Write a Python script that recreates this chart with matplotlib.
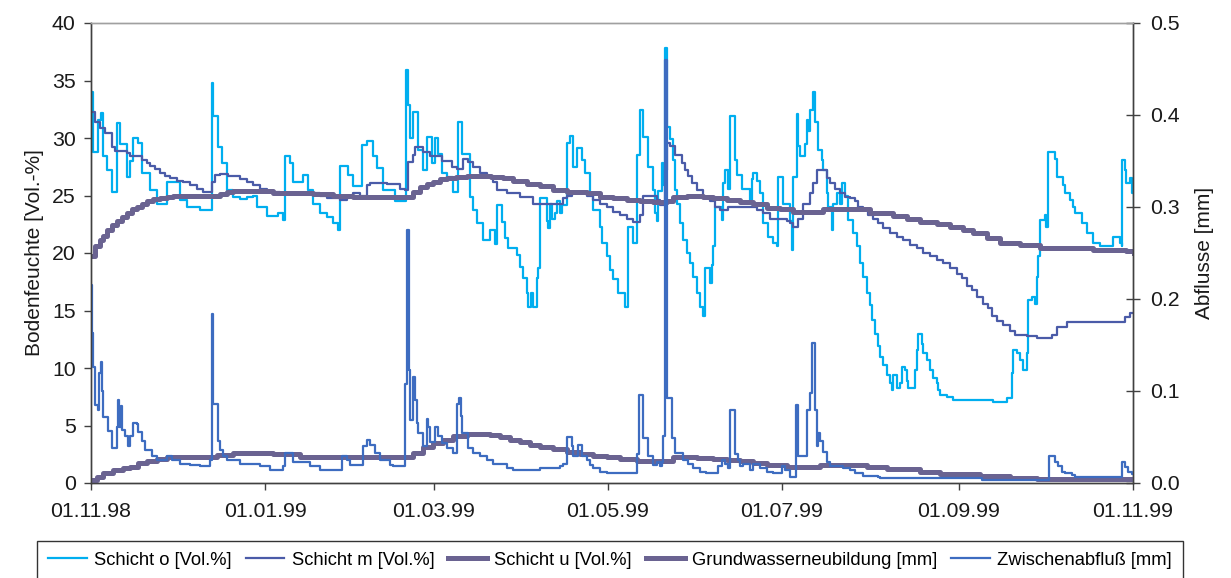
import numpy as np
import matplotlib
matplotlib.use("Agg")
import matplotlib.pyplot as plt
import matplotlib.dates as mdates
from matplotlib.ticker import MultipleLocator, FormatStrFormatter
import datetime as dt

plt.rcParams['font.family'] = ['Liberation Sans', 'DejaVu Sans']

start_date = dt.date(1998, 11, 1)
tick_dates = ["01.11.98", "01.01.99", "01.03.99", "01.05.99", "01.07.99", "01.09.99", "01.11.99"]

# Schicht o [Vol.%]  (days since 01.11.98, value)
o_days = [0.0, 0.6, 0.8, 2.6, 3.4, 4.1, 5.5, 7.2, 9.2, 10.2, 12.5, 13.7, 14.6, 16.6, 17.7, 20.7, 23.0,
          26.5, 28.8, 31.2, 33.5, 38.2, 42.3, 42.8, 44.6, 45.8, 47.5, 49.9, 52.2, 54.5, 56.8, 58.0, 61.5,
          65.6, 67.4, 68.0, 69.7, 70.9, 74.4, 76.1, 77.9, 80.2, 82.6, 84.9, 86.6, 87.2, 90.1, 91.9, 94.8,
          96.6, 98.9, 100.1, 102.4, 106.5, 110.3, 111.1, 111.7, 112.9, 114.6, 116.4, 117.6, 119.3, 120.5,
          121.6, 122.8, 124.6, 126.9, 128.7, 129.8, 132.7, 133.9, 135.1, 137.4, 139.8, 141.5, 142.1,
          143.8, 145.0, 146.2, 149.1, 150.3, 151.4, 152.6, 153.0, 154.3, 155.0, 156.1, 156.7, 157.3,
          159.6, 160.2, 160.8, 161.4, 162.5, 163.1, 164.3, 164.9, 166.6, 167.8, 168.9, 170.1, 171.9,
          173.0, 174.8, 175.9, 178.3, 178.9, 180.6, 181.8, 182.9, 184.7, 187.0, 188.2, 189.9, 191.1,
          192.3, 193.5, 195.2, 197.0, 197.5, 198.1, 198.7, 199.9, 200.5, 201.1, 201.7, 202.8, 204.0,
          204.6, 205.1, 206.3, 207.5, 208.7, 209.8, 211.0, 212.2, 213.3, 214.5, 215.1, 216.8, 217.4,
          218.0, 218.6, 220.9, 221.5, 222.1, 223.2, 223.8, 225.6, 226.2, 227.9, 230.8, 231.4, 232.0,
          233.2, 234.3, 235.5, 237.2, 239.0, 240.2, 240.7, 242.5, 244.8, 245.4, 245.8, 247.2, 247.7,
          248.3, 250.1, 250.7, 251.2, 251.8, 253.0, 253.6, 254.8, 255.9, 256.5, 257.7, 258.3, 259.4,
          260.0, 261.2, 262.3, 262.9, 264.1, 265.3, 267.0, 268.2, 269.4, 270.5, 271.7, 272.9, 273.4,
          274.6, 275.8, 276.4, 277.5, 278.7, 279.9, 280.5, 281.0, 282.2, 283.4, 284.0, 285.1, 285.7,
          286.3, 288.6, 289.2, 289.8, 291.0, 291.5, 292.7, 293.9, 295.0, 296.2, 296.8, 297.4, 299.7,
          302.1, 316.0, 320.7, 322.5, 323.0, 324.2, 325.4, 326.5, 327.7, 328.3, 329.5, 330.6, 331.2,
          331.8, 332.4, 334.1, 334.7, 335.3, 337.7, 338.3, 340.6, 341.2, 342.9, 344.1, 344.7, 347.0,
          348.8, 351.1, 353.4, 357.5, 358.1, 360.4, 361.0, 361.3, 362.1, 362.7, 363.9, 364.5, 365.3]
o_vals = [34.0, 31.6, 28.8, 31.6, 32.2, 28.4, 27.2, 25.3, 31.3, 29.5, 26.6, 28.0, 30.0, 29.6, 27.0, 25.5, 24.3,
          26.2, 26.2, 24.6, 24.0, 23.7, 34.8, 31.9, 29.2, 27.8, 25.5, 24.9, 24.7, 24.9, 25.0, 24.0, 23.2,
          23.5, 22.9, 28.4, 27.8, 26.2, 26.8, 25.5, 24.3, 23.5, 23.1, 22.6, 22.0, 27.6, 26.8, 25.8, 29.4,
          29.7, 28.4, 27.4, 25.5, 24.5, 35.9, 32.9, 30.0, 32.3, 29.0, 27.2, 30.1, 27.8, 30.0,
          28.6, 27.0, 26.6, 25.3, 31.4, 28.6, 24.9, 23.7, 22.6, 21.1, 22.0, 20.8, 24.2,
          22.7, 21.3, 20.4, 19.8, 18.8, 17.8, 16.5, 15.3, 16.5, 15.3, 17.8, 18.7, 24.8,
          22.8, 22.2, 24.3, 23.0, 23.5, 24.5, 23.5, 24.2, 29.6, 30.2, 27.5, 29.1, 28.1,
          27.0, 25.2, 23.7, 22.3, 20.9, 19.7, 18.5, 17.7, 16.5, 15.3, 22.3, 20.9, 28.5,
          32.4, 30.1, 27.5, 25.5, 23.5, 22.8, 25.4, 27.8, 25.9, 37.8, 31.0, 29.9, 28.1,
          25.5, 24.3, 22.6, 21.1, 20.0, 19.1, 17.9, 16.5, 15.3, 14.5, 18.7, 17.4, 19.0,
          20.6, 24.0, 22.9, 26.1, 27.2, 25.6, 31.9, 28.1, 26.8, 25.6, 24.3, 26.4, 27.0,
          26.3, 25.2, 22.6, 21.4, 20.9, 20.6, 26.6, 24.3, 22.8, 20.3, 26.6, 32.1, 29.3,
          28.4, 29.5, 31.6, 30.6, 32.4, 34.0, 31.4, 29.0, 28.1, 27.2, 25.2, 24.0, 22.0,
          24.3, 25.2, 24.3, 26.1, 25.0, 22.9, 21.7, 20.6, 19.1, 17.9, 16.5, 15.5, 14.2,
          13.0, 11.9, 11.0, 10.3, 9.4, 8.7, 8.1, 9.4, 8.3, 8.7, 10.1, 9.8, 8.9,
          8.3, 9.8, 11.6, 13.0, 12.1, 11.3, 10.7, 9.8, 9.1, 8.7, 8.1, 7.65, 7.5,
          7.2, 7.05, 7.4, 9.6, 11.6, 11.3, 10.7, 9.8, 11.3, 15.9, 16.2, 15.6, 17.9,
          19.7, 22.9, 23.3, 22.3, 28.8, 28.2, 26.6, 25.9, 25.2, 24.6, 24.0, 23.5, 22.6,
          21.7, 20.9, 20.6, 20.6, 21.4, 20.9, 20.6, 28.1, 27.2, 26.1, 26.5, 25.2, 24.3]

# Schicht m [Vol.%]
m_days = [0.0, 1.4, 3.2, 4.9, 7.2, 8.4, 12.5, 13.7, 17.7, 19.5, 20.7, 22.4, 24.2, 25.9, 27.7, 30.0, 32.3,
          34.7, 37.0, 39.3, 42.3, 43.4, 45.2, 48.1, 52.2, 54.5, 56.8, 59.2, 61.5, 66.2, 75.6, 77.9, 80.2,
          82.6, 87.2, 89.6, 91.9, 94.2, 96.6, 97.7, 103.6, 108.2, 110.0, 111.1, 112.9, 113.5, 116.4, 118.7,
          121.6, 122.8, 126.3, 128.1, 130.4, 132.2, 133.9, 136.3, 138.6, 140.9, 142.1, 145.6, 150.3, 154.9,
          163.1, 165.4, 166.6, 168.4, 171.9, 173.6, 175.9, 178.3, 180.6, 182.9, 185.3, 187.6, 189.9, 192.3,
          193.5, 198.1, 199.3, 201.1, 201.7, 202.8, 204.6, 206.9, 208.1, 209.2, 210.4, 212.2, 214.5, 216.8,
          218.6, 220.3, 223.2, 233.2, 235.5, 237.8, 243.7, 244.8, 246.0, 247.7, 249.5, 251.8, 253.0, 254.2,
          256.5, 257.7, 258.8, 260.6, 262.3, 264.1, 265.8, 267.6, 268.8, 270.5, 272.3, 274.0, 275.8, 277.5,
          279.9, 282.2, 284.5, 286.9, 289.2, 291.5, 293.9, 296.2, 298.5, 300.9, 303.2, 305.0, 306.7, 308.5,
          310.2, 312.6, 314.3, 315.5, 317.2, 319.5, 321.9, 323.6, 327.7, 331.2, 336.5, 338.3, 341.8, 362.1,
          363.9, 365.3]
m_vals = [32.3, 31.4, 30.9, 30.4, 29.2, 28.9, 28.7, 28.4, 28.1, 27.8, 27.6, 27.3, 27.0, 26.7, 26.5, 26.3, 26.2,
          25.9, 25.6, 25.3, 26.2, 26.8, 26.9, 26.7, 26.4, 26.2, 25.9, 25.6, 25.3, 25.2, 25.3, 25.2, 25.0,
          24.8, 24.6, 24.9, 25.2, 25.0, 25.9, 26.1, 26.0, 25.6, 25.5, 27.9, 28.5, 29.2, 28.8, 28.4,
          28.4, 28.0, 27.5, 27.3, 28.2, 27.9, 27.5, 27.0, 26.6, 26.2, 25.5, 25.2, 24.9, 24.3,
          24.3, 24.8, 25.0, 25.3, 25.3, 25.0, 24.6, 24.3, 24.0, 23.6, 23.3, 23.0, 22.7, 23.3,
          25.0, 24.6, 24.2, 27.2, 29.6, 29.3, 28.5, 27.8, 27.2, 26.7, 26.1, 25.5, 24.9, 24.5,
          24.0, 23.7, 24.0, 23.7, 23.5, 23.0, 22.8, 22.6, 22.3, 23.0, 24.3, 25.2, 26.1, 27.2,
          27.2, 26.5, 26.1, 25.6, 25.2, 24.9, 24.8, 24.5, 24.0, 23.8, 23.3, 23.0, 22.6, 22.2,
          21.7, 21.4, 21.1, 20.7, 20.4, 20.0, 19.7, 19.4, 19.1, 18.7, 18.2, 17.8, 17.1, 16.8,
          16.2, 15.6, 15.2, 14.5, 14.1, 13.7, 13.2, 12.9, 12.8, 12.6, 12.9, 13.6, 14.0, 14.4,
          14.8, 14.8]

# Schicht u [Vol.%]
u_days = [0.0, 1.4, 3.2, 4.3, 5.5, 7.2, 9.0, 10.8, 12.5, 14.3, 16.0, 17.7, 19.5, 21.8, 24.2, 26.5, 28.8,
          45.2, 47.5, 49.9, 61.5, 63.9, 77.9, 84.9, 91.9, 110.0, 112.9, 115.2, 117.6, 119.9, 122.2, 124.6,
          128.0, 131.6, 140.0, 144.4, 147.9, 152.6, 157.3, 161.9, 166.6, 173.6, 178.3, 182.9, 187.6, 192.3,
          197.0, 201.7, 204.0, 208.7, 214.5, 218.0, 222.7, 227.3, 232.0, 236.7, 241.3, 246.0, 256.5, 272.9,
          281.0, 285.7, 290.4, 296.2, 300.9, 305.5, 309.0, 313.7, 318.4, 325.4, 332.4, 351.1, 362.7, 365.3]
u_vals = [19.7, 20.6, 21.1, 21.5, 22.0, 22.4, 22.8, 23.1, 23.5, 23.8, 24.0, 24.3, 24.5, 24.7, 24.8, 24.9, 25.0,
          25.1, 25.3, 25.4, 25.4, 25.2, 25.1, 25.0, 24.9, 24.9, 25.3, 25.7, 26.0, 26.2, 26.4, 26.5,
          26.6, 26.7, 26.6, 26.5, 26.3, 26.0, 25.8, 25.5, 25.3, 25.2, 24.9, 24.8, 24.6, 24.5,
          24.4, 24.5, 24.9, 25.0, 24.9, 24.8, 24.6, 24.4, 24.3, 23.9, 23.8, 23.6, 23.8, 23.5,
          23.2, 23.0, 22.7, 22.5, 22.3, 22.0, 21.7, 21.3, 20.9, 20.7, 20.4, 20.3, 20.2, 20.0]

# Grundwasserneubildung [mm]
gw_days = [0.0, 2.0, 4.3, 7.8, 11.3, 13.7, 16.6, 19.5, 23.0, 26.5, 44.0, 49.9, 63.9, 73.2, 112.9, 116.4,
           119.9, 123.4, 126.9, 131.6, 139.8, 143.3, 146.8, 150.3, 153.8, 157.3, 161.9, 166.6, 171.3,
           175.9, 180.6, 185.3, 191.1, 204.0, 212.2, 218.0, 222.7, 227.3, 232.0, 236.7, 243.7, 255.3,
           271.7, 278.7, 290.4, 297.4, 311.4, 321.9, 331.2, 365.3]
gw_vals = [0.0033, 0.0069, 0.0105, 0.0141, 0.0163, 0.0178, 0.0214, 0.0239, 0.0258, 0.0286, 0.0306, 0.0330,
           0.0315, 0.0286, 0.0323, 0.0395, 0.0431, 0.0468, 0.0511, 0.0533, 0.0521, 0.0496, 0.0468, 0.0443,
           0.0416, 0.0391, 0.0366, 0.0340, 0.0315, 0.0294, 0.0279, 0.0258, 0.0243, 0.0286, 0.0275, 0.0261,
           0.0250, 0.0243, 0.0221, 0.0200, 0.0178, 0.0196, 0.0170, 0.0149, 0.0123, 0.0098, 0.0076, 0.0058,
           0.0048, 0.0048]

# Zwischenabfluss [mm]
zw_days = [0.0, 0.2, 0.6, 1.4, 2.6, 2.9, 3.4, 3.7, 4.3, 6.1, 7.2, 9.0, 9.6, 9.9, 10.4, 10.8, 11.9, 13.1,
           13.7, 14.8, 16.0, 16.6, 17.7, 18.9, 21.3, 23.0, 26.5, 28.3, 31.2, 34.7, 38.2, 41.7, 42.3, 42.8,
           44.6, 45.2, 46.3, 47.5, 52.2, 59.2, 62.7, 67.4, 68.0, 70.9, 76.7, 80.2, 87.8, 89.6, 90.7, 95.2,
           96.6, 97.7, 99.5, 101.2, 104.7, 105.9, 110.0, 110.6, 111.5, 111.7, 112.9, 113.5, 114.1, 114.6,
           116.4, 117.6, 118.1, 118.7, 120.5, 121.6, 122.8, 124.6, 126.9, 128.3, 129.0, 129.5, 129.8,
           132.2, 133.9, 136.3, 138.6, 140.9, 145.6, 147.9, 157.3, 164.3, 165.4, 166.6, 168.4, 168.9,
           170.7, 171.9, 173.6, 174.8, 175.9, 178.3, 180.6, 191.1, 192.1, 193.5, 195.2, 197.0, 198.1,
           199.3, 199.9, 200.5, 201.1, 201.7, 203.4, 204.6, 207.5, 209.2, 211.0, 213.3, 215.6, 219.7,
           220.9, 222.1, 223.2, 223.8, 225.6, 226.7, 227.3, 228.5, 230.8, 232.0, 234.3, 236.7, 239.0,
           241.9, 243.1, 244.8, 246.9, 247.7, 248.9, 250.7, 251.8, 252.4, 253.6, 254.2, 254.8, 255.3,
           256.5, 257.7, 258.8, 263.5, 265.8, 267.6, 270.5, 275.8, 276.4, 312.0, 335.7, 337.7, 338.8,
           340.0, 341.2, 343.5, 344.7, 361.3, 362.1, 363.3, 364.5, 365.3]
zw_vals = [0.215, 0.163, 0.126, 0.085, 0.079, 0.120, 0.131, 0.100, 0.072, 0.056, 0.038, 0.061, 0.090, 0.061,
           0.084, 0.058, 0.051, 0.040, 0.051, 0.065, 0.064, 0.055, 0.046, 0.036, 0.029, 0.025, 0.029, 0.025,
           0.021, 0.020, 0.018, 0.025, 0.184, 0.086, 0.046, 0.036, 0.029, 0.025, 0.021, 0.018, 0.014, 0.018,
           0.033, 0.023, 0.018, 0.014, 0.029, 0.025, 0.020, 0.040, 0.047, 0.041, 0.033, 0.025, 0.020, 0.018,
           0.108, 0.275, 0.123, 0.069, 0.115, 0.090, 0.065, 0.054, 0.040, 0.070, 0.061, 0.045, 0.061, 0.051,
           0.044, 0.038, 0.033, 0.086, 0.092, 0.073, 0.054, 0.038, 0.033, 0.029, 0.025, 0.021, 0.016, 0.014,
           0.016, 0.018, 0.021, 0.050, 0.040, 0.029, 0.041, 0.029, 0.025, 0.020, 0.016, 0.012, 0.0105,
           0.032, 0.096, 0.049, 0.029, 0.020, 0.023, 0.018, 0.023, 0.051, 0.460, 0.092, 0.049, 0.033,
           0.025, 0.021, 0.016, 0.012, 0.0105, 0.018, 0.025, 0.021, 0.016, 0.079, 0.032, 0.025, 0.018,
           0.021, 0.014, 0.021, 0.016, 0.012, 0.0105, 0.018, 0.014, 0.007, 0.085, 0.029, 0.029, 0.079,
           0.098, 0.152, 0.079, 0.040, 0.054, 0.046, 0.034, 0.023, 0.018, 0.016, 0.014, 0.0105, 0.0075,
           0.007, 0.005, 0.003, 0.029, 0.0225, 0.018, 0.0125, 0.0105, 0.009, 0.006, 0.023, 0.017, 0.0125,
           0.010, 0.007]

C_O = "#00AEEF"
C_M = "#4A5BA8"
C_U = "#6A6391"
C_GW = "#6A6391"
C_ZW = "#3D6CC0"

t0 = mdates.date2num(start_date)
def tx(days):
    return t0 + np.asarray(days, dtype=float)

fig = plt.figure(figsize=(12.31, 5.78), dpi=100)
ax = fig.add_axes([91/1231, 1 - 483/578, (1133 - 91)/1231, (483 - 23)/578])
ax2 = ax.twinx()
ax.set_zorder(2)
ax.patch.set_visible(False)

l_o, = ax.plot(tx(o_days), o_vals, drawstyle='steps-post', color=C_O, lw=1.6, label="Schicht o [Vol.%]")
l_m, = ax.plot(tx(m_days), m_vals, drawstyle='steps-post', color=C_M, lw=1.6, label="Schicht m [Vol.%]")
l_u, = ax.plot(tx(u_days), u_vals, drawstyle='steps-post', color=C_U, lw=3.6, label="Schicht u [Vol.%]")
l_gw, = ax2.plot(tx(gw_days), gw_vals, drawstyle='steps-post', color=C_GW, lw=3.6, label="Grundwasserneubildung [mm]")
l_zw, = ax2.plot(tx(zw_days), zw_vals, drawstyle='steps-post', color=C_ZW, lw=1.6, label="Zwischenabfluß [mm]")
ax2.set_zorder(3)
ax2.patch.set_visible(False)

tick_pos = [t0 + d for d in [0, 61, 120, 181, 242, 304, 365]]
ax.set_xlim(t0, t0 + 365)
ax.set_ylim(0, 40)
ax2.set_ylim(0, 0.5)
ax.set_xticks(tick_pos)
ax.set_xticklabels(tick_dates)
ax.yaxis.set_major_locator(MultipleLocator(5))
ax2.yaxis.set_major_locator(MultipleLocator(0.1))
ax2.yaxis.set_major_formatter(FormatStrFormatter('%.1f'))

for a in (ax, ax2):
    for s in a.spines.values():
        s.set_color('#404040')
        s.set_linewidth(1.0)
    a.spines['top'].set_color('#A0A0A0')

ax.tick_params(axis='x', direction='out', length=5, width=1, colors='#404040', labelcolor='#1a1a1a',
               labelsize=15.3, pad=9)
ax.tick_params(axis='y', direction='out', length=5, width=1, colors='#404040', labelcolor='#1a1a1a',
               labelsize=15.3, pad=6)
ax2.tick_params(axis='y', direction='inout', length=10, width=1, colors='#404040', labelcolor='#1a1a1a',
                labelsize=15.3, pad=7)

ax.set_ylabel("Bodenfeuchte [Vol.-%]", fontsize=15, color='#1a1a1a', labelpad=6)
ax2.set_ylabel("Abflusse [mm]", fontsize=15, color='#1a1a1a', labelpad=11)

leg = fig.legend(handles=[l_o, l_m, l_u, l_gw, l_zw], loc='lower center',
                 bbox_to_anchor=(610/1231, -0.003), ncol=5, fontsize=13.2, frameon=True,
                 fancybox=False, edgecolor='#333333', framealpha=1, handlelength=2.1,
                 handletextpad=0.4, columnspacing=0.78, borderpad=0.6, borderaxespad=0)
leg.get_frame().set_linewidth(1.0)

fig.savefig("out.png", dpi=100)
